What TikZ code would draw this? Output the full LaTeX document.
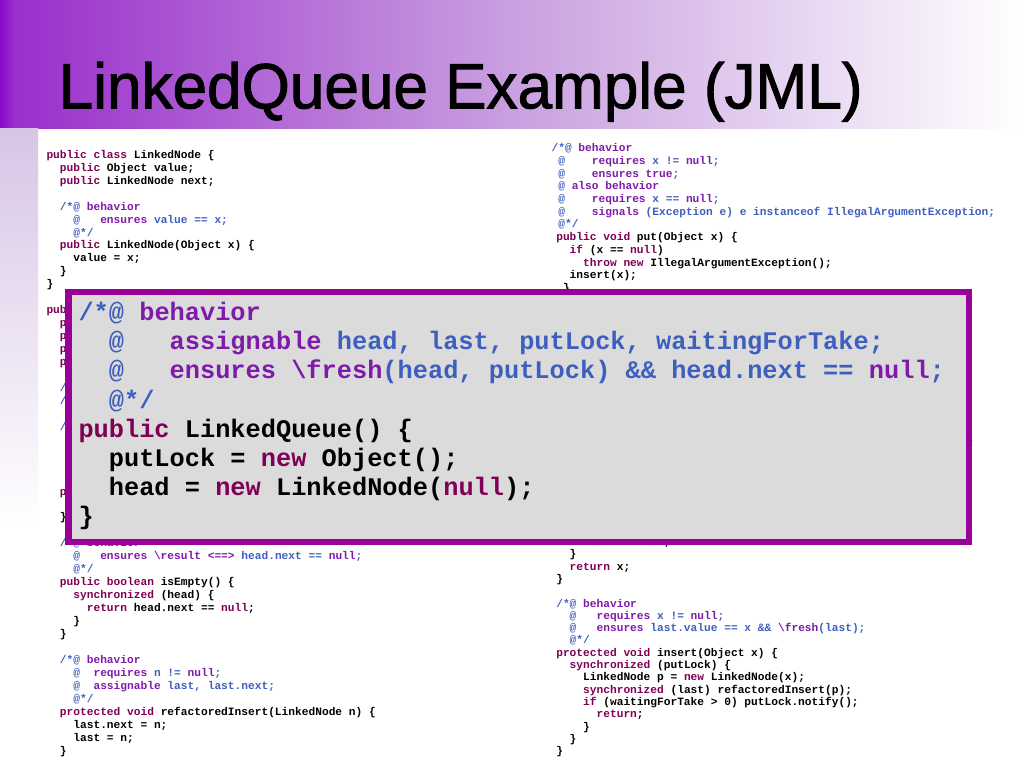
\documentclass[tikz,border=0pt]{standalone}
\usepackage{fontspec}
\newfontfamily\codefont{Liberation Mono}
\newfontfamily\titlefont{Liberation Sans}[FakeBold=1.5]
\definecolor{kwc}{HTML}{7F0055}
\definecolor{jkc}{HTML}{7F1AAA}
\definecolor{jcc}{HTML}{3F5FBF}
\definecolor{tA}{HTML}{8A0ACC}
\definecolor{tB}{HTML}{9B2FCC}
\definecolor{tC}{HTML}{C9A0E0}
\definecolor{stripc}{HTML}{D8C5E6}
\definecolor{boxp}{HTML}{990099}
\definecolor{boxg}{HTML}{DBDBDB}
\pgfdeclarehorizontalshading{titleshade}{100bp}{color(0bp)=(tA); color(25bp)=(tA); color(25.7bp)=(tB); color(50bp)=(tC); color(75bp)=(white); color(100bp)=(white)}
\newcommand\Kw[1]{\textcolor{kwc}{#1}}
\newcommand\Jk[1]{\textcolor{jkc}{#1}}
\newcommand\Jc[1]{\textcolor{jcc}{#1}}
\newcommand\ind[1]{\hspace*{\dimexpr#1em*6/10\relax}}
\frenchspacing
\tikzset{
  sc/.style={anchor=base west, inner sep=0pt, outer sep=0pt, font=\codefont\bfseries\fontsize{11.2}{13}\selectfont},
  oc/.style={anchor=base west, inner sep=0pt, outer sep=0pt, font=\codefont\bfseries\fontsize{25.33}{29}\selectfont},
  ovbox/.style={draw=boxp, fill=boxg, line width=6.5pt, inner sep=0pt, minimum width=900.5pt, minimum height=250pt}
}
\newcommand\codeL[2]{\node[sc] (lc#1) at (46.5,{158.3+#1*12.95}) {#2};}
\newcommand\codeRT[3]{\node[sc] (rt#1) at (#2,{151.7+#1*12.7}) {#3};}
\newcommand\codeRB[2]{\node[sc] (rb#1) at (556.3,{545.5+#1*12.3}) {#2};}
\newcommand\codeOV[2]{\node[oc] (ov#1) at (78.5,{320.5+#1*29.2}) {#2};}
\begin{document}
\begin{tikzpicture}[x=1pt,y=-1pt]
\useasboundingbox (0,0) rectangle (1024,768);
\fill[white] (0,0) rectangle (1024,768);
\shade[shading=titleshade] (0,0) rectangle (1024,128);
\shade[top color=stripc, bottom color=white] (0,128) rectangle (38,530);
\node[anchor=base west, inner sep=0pt, font=\titlefont\fontsize{64}{70}\selectfont] (title) at (58.5,108.3) {\scalebox{0.97}[1]{LinkedQueue Example (JML)}};

% left column
\codeL{0}{\Kw{public class} LinkedNode \{}
\codeL{1}{\ind{2}\Kw{public} Object value;}
\codeL{2}{\ind{2}\Kw{public} LinkedNode next;}
\codeL{4}{\ind{2}\Jc{/*@} \Jk{behavior}}
\codeL{5}{\ind{4}\Jc{@}\ind{3}\Jk{ensures} \Jc{value == x;}}
\codeL{6}{\ind{4}\Jc{@*/}}
\codeL{7}{\ind{2}\Kw{public} LinkedNode(Object x) \{}
\codeL{8}{\ind{4}value = x;}
\codeL{9}{\ind{2}\}}
\codeL{10}{\}}
\codeL{12}{\Kw{pub}}
\codeL{13}{\ind{2}\Kw{p}}
\codeL{14}{\ind{2}\Kw{p}}
\codeL{15}{\ind{2}\Kw{p}}
\codeL{16}{\ind{2}\Kw{p}}
\codeL{18}{\ind{2}\Jc{/}}
\codeL{19}{\ind{2}\Jc{/}}
\codeL{21}{\ind{2}\Jc{/}}
\codeL{26}{\ind{2}\Kw{p}}
\codeL{28}{\ind{2}\}}
\codeL{30}{\ind{2}\Jc{/*@} \Jk{behavior}}
\codeL{31}{\ind{4}\Jc{@}\ind{3}\Jk{ensures \textbackslash result <==>} \Jc{head.next ==} \Jk{null}\Jc{;}}
\codeL{32}{\ind{4}\Jc{@*/}}
\codeL{33}{\ind{2}\Kw{public boolean} isEmpty() \{}
\codeL{34}{\ind{4}\Kw{synchronized} (head) \{}
\codeL{35}{\ind{6}\Kw{return} head.next == \Kw{null};}
\codeL{36}{\ind{4}\}}
\codeL{37}{\ind{2}\}}
\codeL{39}{\ind{2}\Jc{/*@} \Jk{behavior}}
\codeL{40}{\ind{4}\Jc{@}\ind{2}\Jk{requires} \Jc{n !=} \Jk{null}\Jc{;}}
\codeL{41}{\ind{4}\Jc{@}\ind{2}\Jk{assignable} \Jc{last, last.next;}}
\codeL{42}{\ind{4}\Jc{@*/}}
\codeL{43}{\ind{2}\Kw{protected void} refactoredInsert(LinkedNode n) \{}
\codeL{44}{\ind{4}last.next = n;}
\codeL{45}{\ind{4}last = n;}
\codeL{46}{\ind{2}\}}

% right column, top
\codeRT{0}{551.6}{\Jc{/*@} \Jk{behavior}}
\codeRT{1}{551.6}{\ind{1}\Jc{@}\ind{4}\Jk{requires} \Jc{x !=} \Jk{null}\Jc{;}}
\codeRT{2}{551.6}{\ind{1}\Jc{@}\ind{4}\Jk{ensures true}\Jc{;}}
\codeRT{3}{551.6}{\ind{1}\Jc{@} \Jk{also behavior}}
\codeRT{4}{551.6}{\ind{1}\Jc{@}\ind{4}\Jk{requires} \Jc{x ==} \Jk{null}\Jc{;}}
\codeRT{5}{551.6}{\ind{1}\Jc{@}\ind{4}\Jk{signals} \Jc{(Exception e) e instanceof IllegalArgumentException;}}
\codeRT{6}{551.6}{\ind{1}\Jc{@*/}}
\codeRT{7}{556.3}{\Kw{public void} put(Object x) \{}
\codeRT{8}{556.3}{\ind{2}\Kw{if} (x == \Kw{null})}
\codeRT{9}{556.3}{\ind{4}\Kw{throw new} IllegalArgumentException();}
\codeRT{10}{556.3}{\ind{2}insert(x);}
\codeRT{11}{556.3}{\ind{1}\}}
\node[sc] (frag) at (968.2,446) {\Jc{;}};

% right column, bottom
\codeRB{0}{\ind{4}head = first;}
\codeRB{1}{\ind{2}\}}
\codeRB{2}{\ind{2}\Kw{return} x;}
\codeRB{3}{\}}
\codeRB{5}{\Jc{/*@} \Jk{behavior}}
\codeRB{6}{\ind{2}\Jc{@}\ind{3}\Jk{requires} \Jc{x !=} \Jk{null}\Jc{;}}
\codeRB{7}{\ind{2}\Jc{@}\ind{3}\Jk{ensures} \Jc{last.value == x \&\&} \Jk{\textbackslash fresh}\Jc{(last);}}
\codeRB{8}{\ind{2}\Jc{@*/}}
\codeRB{9}{\Kw{protected void} insert(Object x) \{}
\codeRB{10}{\ind{2}\Kw{synchronized} (putLock) \{}
\codeRB{11}{\ind{4}LinkedNode p = \Kw{new} LinkedNode(x);}
\codeRB{12}{\ind{4}\Kw{synchronized} (last) refactoredInsert(p);}
\codeRB{13}{\ind{4}\Kw{if} (waitingForTake > 0) putLock.notify();}
\codeRB{14}{\ind{6}\Kw{return};}
\codeRB{15}{\ind{4}\}}
\codeRB{16}{\ind{2}\}}
\codeRB{17}{\}}

% overlay box
\node[ovbox] (box) at (518.5,416.75) {};
\codeOV{0}{\Jc{/*@} \Jk{behavior}}
\codeOV{1}{\ind{2}\Jc{@}\ind{3}\Jk{assignable} \Jc{head, last, putLock, waitingForTake;}}
\codeOV{2}{\ind{2}\Jc{@}\ind{3}\Jk{ensures \textbackslash fresh}\Jc{(head, putLock) \&\& head.next ==} \Jk{null}\Jc{;}}
\codeOV{3}{\ind{2}\Jc{@*/}}
\codeOV{4}{\Kw{public} LinkedQueue() \{}
\codeOV{5}{\ind{2}putLock = \Kw{new} Object();}
\codeOV{6}{\ind{2}head = \Kw{new} LinkedNode(\Kw{null});}
\codeOV{7}{\}}
\end{tikzpicture}
\end{document}
